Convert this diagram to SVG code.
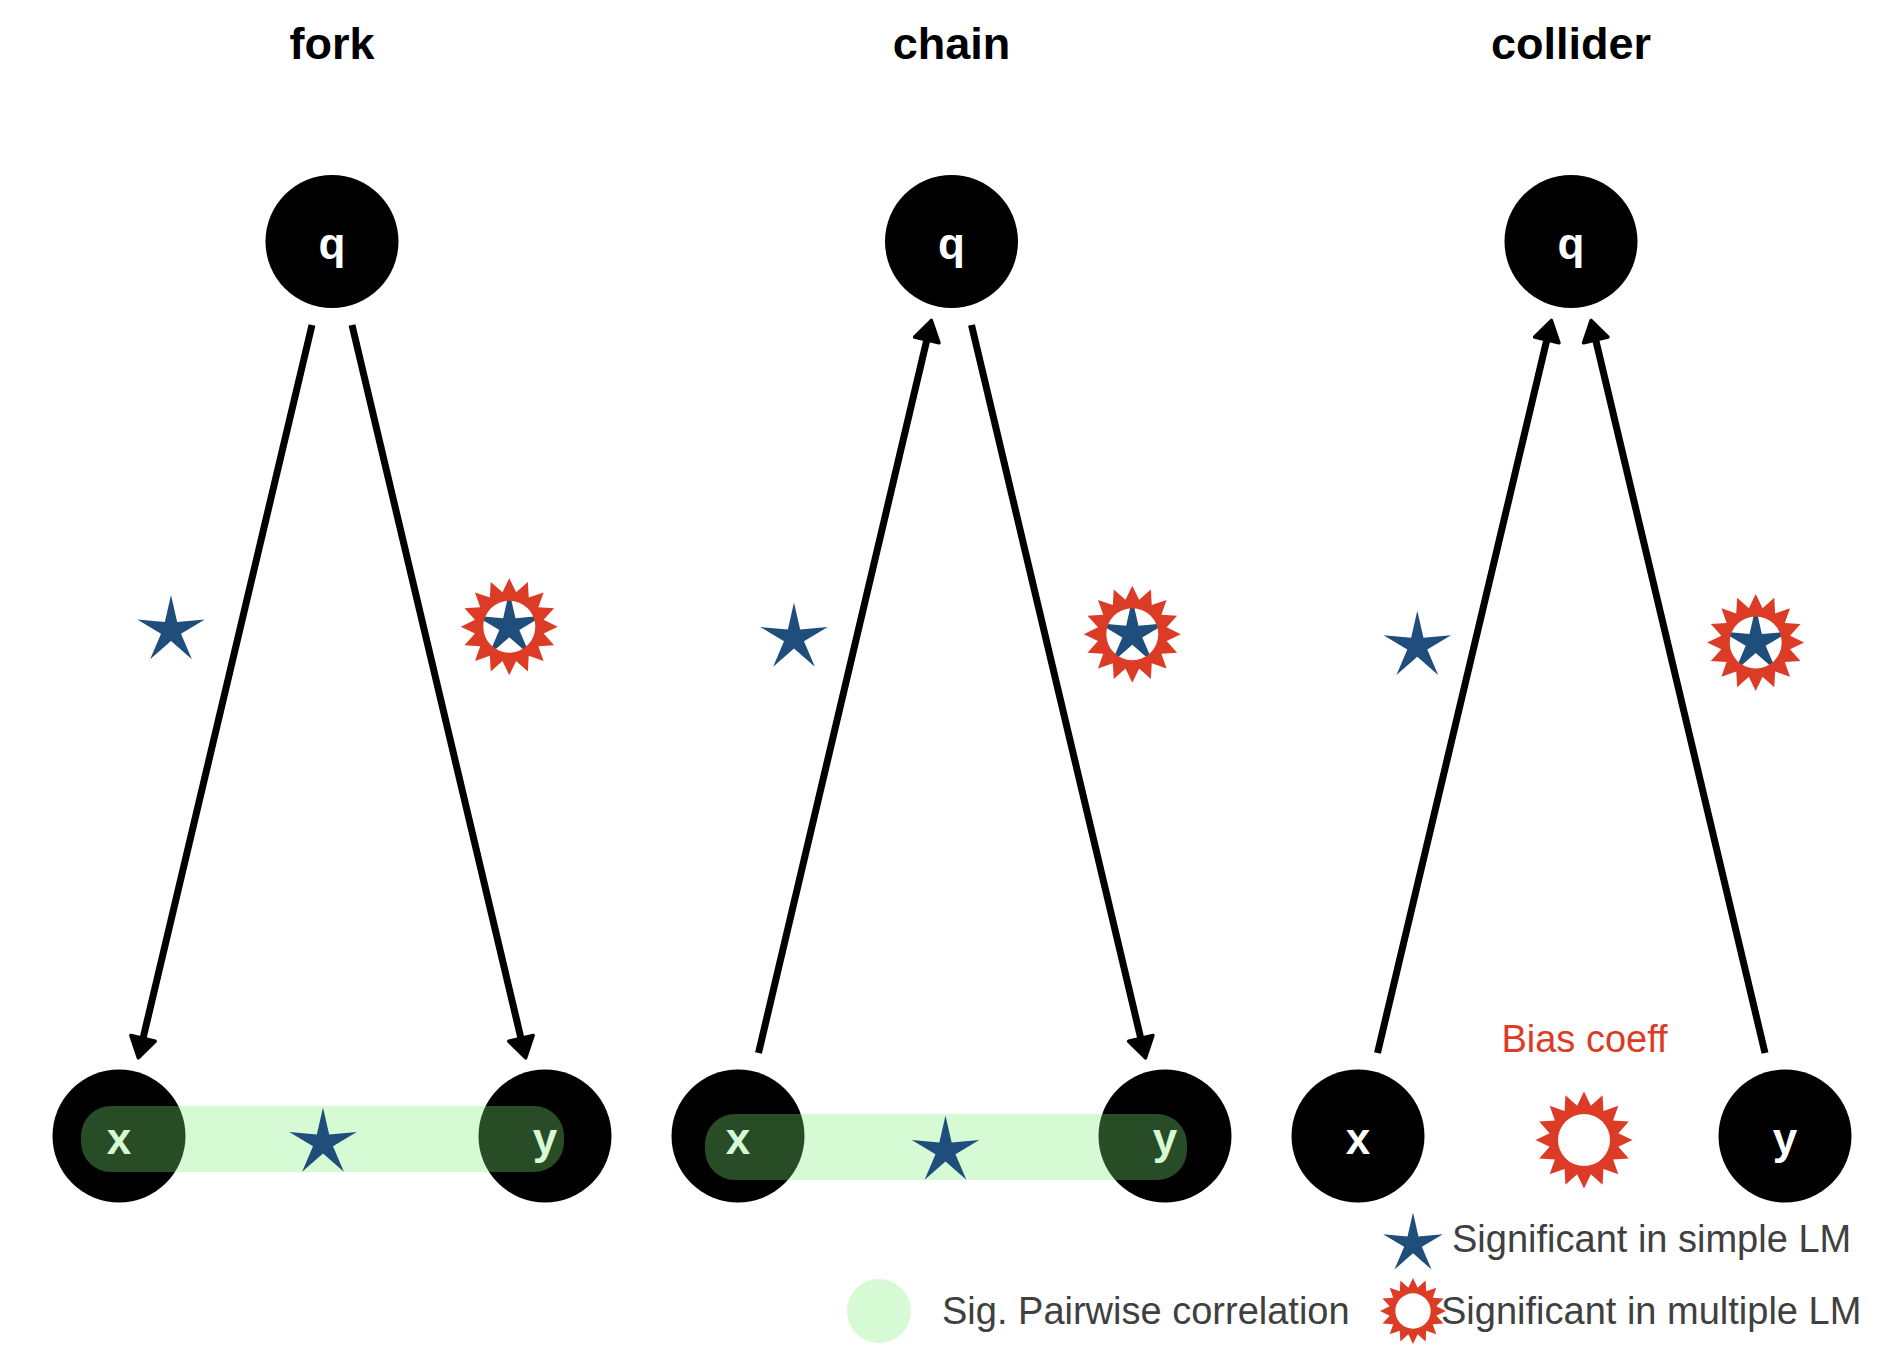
<svg xmlns="http://www.w3.org/2000/svg" xmlns:xlink="http://www.w3.org/1999/xlink" width="1888" height="1348" viewBox="0 0 1888 1348">
<style>
.title{font-family:"Liberation Sans",Arial,sans-serif;font-weight:bold;font-size:45px;fill:#000;text-anchor:middle}
.node{fill:#000}
.lbl{font-family:"Liberation Sans",Arial,sans-serif;font-weight:bold;font-size:44px;fill:#fff;text-anchor:middle}
.edge{stroke:#000;stroke-width:7;fill:none;stroke-linecap:butt}
.band{fill:rgb(127,240,120);fill-opacity:0.316}
.star{fill:#1f4e7c}
.burst{fill:#dc3b26;fill-rule:evenodd}
.legend{font-family:"Liberation Sans",Arial,sans-serif;font-size:38px;fill:#404040}
.bias{font-family:"Liberation Sans",Arial,sans-serif;font-size:38px;fill:#dc3b26;text-anchor:middle}
</style>
<defs>
<marker id="ah" markerUnits="userSpaceOnUse" viewBox="-3 -16 28 32" markerWidth="28" markerHeight="32" refX="7" refY="0" orient="auto">
<path d="M0,-12.5 L20,0 L0,12.5 Z" fill="#000" stroke="#000" stroke-width="3.5" stroke-linejoin="round"/>
</marker>
<path id="starShape" d="M0,-35.5 L6.17,-8.49 L33.76,-10.97 L9.99,3.24 L20.87,28.72 L0,10.5 L-20.87,28.72 L-9.99,3.24 L-33.76,-10.97 L-6.17,-8.49 Z"/>
<path id="burstShape" d="M0,-48.5 L6.83,-34.33 L18.56,-44.81 L19.44,-29.1 L34.29,-34.29 L29.1,-19.44 L44.81,-18.56 L34.33,-6.83 L48.5,0 L34.33,6.83 L44.81,18.56 L29.1,19.44 L34.29,34.29 L19.44,29.1 L18.56,44.81 L6.83,34.33 L0,48.5 L-6.83,34.33 L-18.56,44.81 L-19.44,29.1 L-34.29,34.29 L-29.1,19.44 L-44.81,18.56 L-34.33,6.83 L-48.5,0 L-34.33,-6.83 L-44.81,-18.56 L-29.1,-19.44 L-34.29,-34.29 L-19.44,-29.1 L-18.56,-44.81 L-6.83,-34.33 Z M26,0 A26,26 0 1,0 -26,0 A26,26 0 1,0 26,0 Z"/>
</defs>
<rect x="0" y="0" width="1888" height="1348" fill="#fff"/>

<g id="titles">
<text class="title" x="332" y="59">fork</text>
<text class="title" x="951.5" y="59">chain</text>
<text class="title" x="1571" y="59">collider</text>
</g>

<g id="fork-q"><circle class="node" cx="332" cy="241.5" r="66.5"/><text class="lbl" x="332" y="259">q</text></g>
<g id="fork-x"><circle class="node" cx="119" cy="1136" r="66.5"/><text class="lbl" x="119" y="1154">x</text></g>
<g id="fork-y"><circle class="node" cx="545" cy="1136" r="66.5"/><text class="lbl" x="545" y="1154">y</text></g>

<g id="chain-q"><circle class="node" cx="951.5" cy="241.5" r="66.5"/><text class="lbl" x="951.5" y="259">q</text></g>
<g id="chain-x"><circle class="node" cx="738" cy="1136" r="66.5"/><text class="lbl" x="738" y="1154">x</text></g>
<g id="chain-y"><circle class="node" cx="1165" cy="1136" r="66.5"/><text class="lbl" x="1165" y="1154">y</text></g>

<g id="collider-q"><circle class="node" cx="1571" cy="241.5" r="66.5"/><text class="lbl" x="1571" y="259">q</text></g>
<g id="collider-x"><circle class="node" cx="1358" cy="1136" r="66.5"/><text class="lbl" x="1358" y="1154">x</text></g>
<g id="collider-y"><circle class="node" cx="1785" cy="1136" r="66.5"/><text class="lbl" x="1785" y="1154">y</text></g>

<g id="connectors">
<line class="edge" x1="312" y1="325" x2="141.4" y2="1045.2" marker-end="url(#ah)"/>
<line class="edge" x1="352" y1="325" x2="522.6" y2="1045.2" marker-end="url(#ah)"/>
<line class="edge" x1="758.5" y1="1053" x2="928.4" y2="333.1" marker-end="url(#ah)"/>
<line class="edge" x1="971.5" y1="325" x2="1142.4" y2="1045.2" marker-end="url(#ah)"/>
<line class="edge" x1="1377.5" y1="1053" x2="1548.4" y2="333.1" marker-end="url(#ah)"/>
<line class="edge" x1="1765" y1="1053" x2="1594.1" y2="333.1" marker-end="url(#ah)"/>
</g>

<g id="fork-correlation">
<rect class="band" x="81" y="1106" width="483" height="66" rx="30" ry="30"/>
<use href="#starShape" xlink:href="#starShape" class="star" transform="translate(323,1143)"/>
</g>
<g id="chain-correlation">
<rect class="band" x="705" y="1114" width="482" height="66" rx="30" ry="30"/>
<use href="#starShape" xlink:href="#starShape" class="star" transform="translate(945.5,1151)"/>
</g>

<g id="fork-marks">
<use href="#starShape" xlink:href="#starShape" class="star" transform="translate(171,630.5)"/>
<use href="#starShape" xlink:href="#starShape" class="star" transform="translate(509.3,626.7)"/>
<use href="#burstShape" xlink:href="#burstShape" class="burst" transform="translate(509.3,626.7)"/>
</g>
<g id="chain-marks">
<use href="#starShape" xlink:href="#starShape" class="star" transform="translate(794,638)"/>
<use href="#starShape" xlink:href="#starShape" class="star" transform="translate(1132.3,634.2)"/>
<use href="#burstShape" xlink:href="#burstShape" class="burst" transform="translate(1132.3,634.2)"/>
</g>
<g id="collider-marks">
<use href="#starShape" xlink:href="#starShape" class="star" transform="translate(1417.3,646.2)"/>
<use href="#starShape" xlink:href="#starShape" class="star" transform="translate(1755.7,642.5)"/>
<use href="#burstShape" xlink:href="#burstShape" class="burst" transform="translate(1755.7,642.5)"/>
</g>

<g id="bias">
<text class="bias" x="1584.5" y="1052">Bias coeff</text>
<use href="#burstShape" xlink:href="#burstShape" class="burst" transform="translate(1584,1140)"/>
</g>

<g id="legend">
<circle cx="879" cy="1311" r="32" class="band"/>
<text class="legend" x="942" y="1324">Sig. Pairwise correlation</text>
<use href="#starShape" xlink:href="#starShape" class="star" transform="translate(1413,1244) scale(0.887)"/>
<text class="legend" x="1452" y="1252">Significant in simple LM</text>
<use href="#burstShape" xlink:href="#burstShape" class="burst" transform="translate(1413,1311) scale(0.68)"/>
<text class="legend" x="1441" y="1324">Significant in multiple LM</text>
</g>
</svg>
